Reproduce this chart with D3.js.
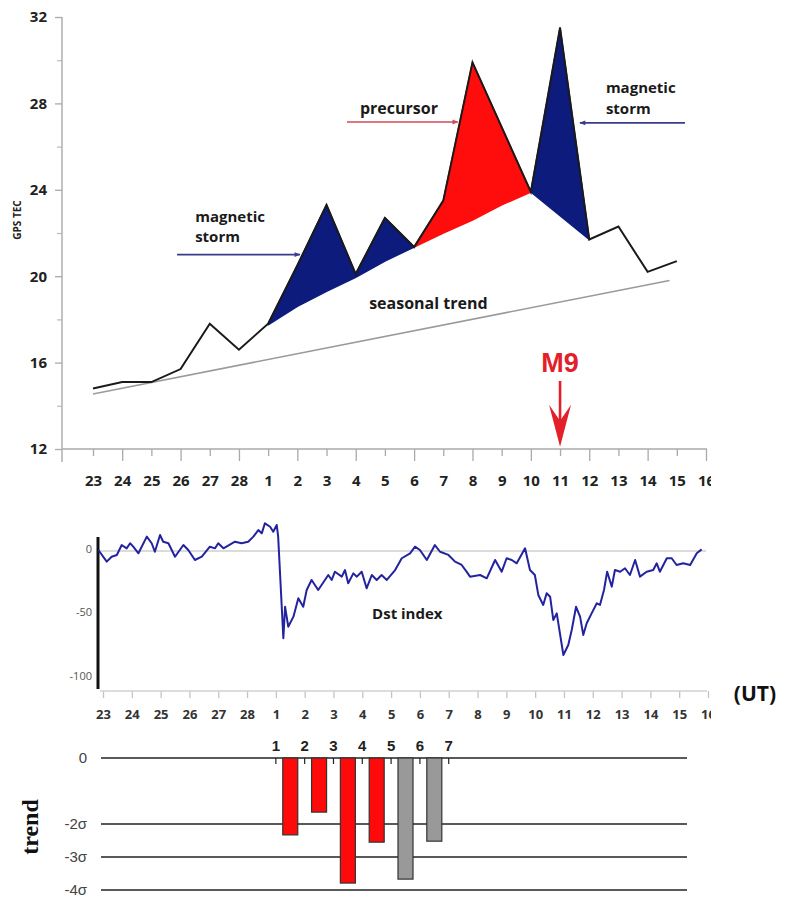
<!DOCTYPE html>
<html><head><meta charset="utf-8">
<script src="https://cdn.jsdelivr.net/npm/d3@7/dist/d3.min.js"></script>
<style>
html,body{margin:0;padding:0;background:#fff;}
svg{display:block;}
</style></head>
<body>
<script>
// ---------- DATA ----------
const dayLabels = ["23","24","25","26","27","28","1","2","3","4","5","6","7","8","9","10","11","12","13","14","15","16"];
const tecValues = [14.8,15.1,15.1,15.7,17.8,16.6,17.8,20.5,23.3,20.1,22.7,21.35,23.5,29.9,26.9,23.9,31.5,21.7,22.3,20.2,20.7];
const baseStart = 6;
const baseValues = [17.75,18.6,19.3,19.95,20.7,21.35,22.0,22.6,23.3,23.9,22.8,21.7];
const fillStart = [6,11,15];
const fillEnd   = [11,15,17];
const fillKind  = ["storm","precursor","storm"];
const trendIdx  = [0,19.75];
const trendVals = [14.55,19.8];
const tecTicks = [12,16,20,24,28,32];
const tecMinorTicks = [14,18,22,26,30];

// Dst index: time in days after the "23" tick, value in nT
const dstT = [-0.16,0.13,0.30,0.48,0.65,0.82,0.94,1.05,1.23,1.52,1.69,1.80,1.98,2.09,2.27,2.50,2.79,2.96,3.19,3.43,3.71,3.89,4.00,4.18,4.58,4.81,5.04,5.22,5.39,5.51,5.62,5.80,5.91,6.03,6.08,6.26,6.32,6.43,6.61,6.78,6.95,7.07,7.24,7.47,7.82,7.94,8.05,8.29,8.40,8.51,8.69,8.81,8.98,9.15,9.33,9.50,9.67,9.85,10.14,10.37,10.66,10.83,11.00,11.24,11.52,11.70,11.99,12.22,12.45,12.62,12.74,13.09,13.32,13.61,13.84,14.01,14.19,14.36,14.65,14.82,14.99,15.11,15.28,15.40,15.52,15.63,15.75,15.98,16.15,16.27,16.42,16.56,16.67,16.79,16.96,17.14,17.25,17.39,17.50,17.66,17.77,17.95,18.12,18.29,18.47,18.64,18.87,19.10,19.22,19.33,19.57,19.74,19.91,20.14,20.38,20.61,20.78];
const dstV = [0.8,-8.4,-4.5,-3.1,4.7,2.1,6.1,3.4,-1.8,11.3,6.1,-0.6,12.6,7.3,6.1,-4.5,4.7,0.8,-7.1,-4.5,3.4,2.1,6.1,2.1,7.3,6.1,7.3,11.3,16.5,13.9,21.8,19.1,15.2,20.5,11.3,-68.7,-43.9,-59.6,-51.7,-37.2,-43.9,-30.7,-22.8,-30.7,-18.9,-22.8,-16.3,-20.2,-15.0,-25.4,-17.6,-20.2,-16.3,-29.4,-18.9,-22.8,-18.9,-22.8,-15.0,-5.7,-1.8,3.4,0.8,-7.1,4.7,-0.6,-3.1,-8.4,-11.0,-16.3,-20.2,-18.9,-21.5,-7.1,-16.3,-5.7,-7.1,-9.7,2.1,-15.0,-18.9,-34.6,-42.5,-33.3,-36.0,-54.3,-49.1,-81.9,-74.0,-62.2,-43.9,-51.7,-66.1,-56.9,-49.1,-41.2,-42.5,-30.7,-16.3,-28.1,-15.0,-16.3,-13.6,-18.9,-7.1,-20.2,-16.3,-15.0,-9.7,-16.3,-5.7,-5.7,-11.0,-9.7,-11.0,-1.8,1.3];
const dstTicks = [0,-50,-100];
const dstTickLabels = ["0","-50","-100"];

const barNumbers = ["1","2","3","4","5","6","7"];
const barValues = [-2.33,-1.64,-3.79,-2.55,-3.67,-2.52];
const barKinds  = ["red","red","red","red","gray","gray"];
const sigmaTicks = [0,-2,-3,-4];
const sigmaLabels = ["0","-2σ","-3σ","-4σ"];

// ---------- SETUP ----------
const W = 789, H = 897;
const svg = d3.select("body").append("svg").attr("width",W).attr("height",H);
svg.append("rect").attr("width",W).attr("height",H).attr("fill","#fff");
const FONT = "'Open Sans', 'DejaVu Sans', sans-serif";
const NAVY = "#0d1b7d", RED = "#ff0d0d";

const defs = svg.append("defs");
defs.append("clipPath").attr("id","clipR").append("rect").attr("x",0).attr("y",0).attr("width",711).attr("height",H);
function marker(id, color){
  defs.append("marker").attr("id",id).attr("viewBox","0 0 10 10").attr("refX",9).attr("refY",5)
    .attr("markerWidth",8).attr("markerHeight",6).attr("markerUnits","userSpaceOnUse").attr("orient","auto")
    .append("path").attr("d","M0,1 L10,5 L0,9 Z").attr("fill",color);
}
marker("arrNavy","#3b3b8c");
marker("arrRed","#d24a5a");

// ---------- TOP PANEL ----------
const xTop = d3.scaleLinear().domain([0,21]).range([93,706]);
const yTop = d3.scaleLinear().domain([12,32]).range([449,17]);
const topG = svg.append("g");

const yAx = topG.append("g").attr("transform",`translate(62,0)`)
  .call(d3.axisLeft(yTop).tickValues(tecTicks).tickSize(7).tickSizeOuter(0).tickPadding(8).tickFormat(d3.format("d")));
yAx.select(".domain").remove();
yAx.selectAll("line").attr("stroke","#aaa").attr("stroke-width",1.3);
yAx.selectAll("text").attr("font-family",FONT).attr("font-weight","bold").attr("font-size",15).attr("fill","#222");
const yAxMin = topG.append("g").attr("transform",`translate(62,0)`)
  .call(d3.axisLeft(yTop).tickValues(tecMinorTicks).tickSize(5).tickSizeOuter(0).tickFormat(""));
yAxMin.select(".domain").remove();
yAxMin.selectAll("line").attr("stroke","#bbb").attr("stroke-width",1.2);
topG.append("line").attr("x1",62).attr("x2",62).attr("y1",yTop(32)).attr("y2",yTop(12)+13).attr("stroke","#aaa").attr("stroke-width",1.4);

const xAx = topG.append("g").attr("transform",`translate(0,${yTop(12)})`).attr("clip-path","url(#clipR)")
  .call(d3.axisBottom(xTop).tickValues(d3.range(dayLabels.length)).tickFormat(i=>dayLabels[i]).tickSize(8).tickSizeOuter(0).tickPadding(18));
xAx.select(".domain").remove();
xAx.selectAll("line").attr("stroke","#aaa").attr("stroke-width",1.3).attr("y2",(d,i)=> i%2 ? 12 : 7);
xAx.selectAll("text").attr("font-family",FONT).attr("font-weight","bold").attr("font-size",15).attr("fill","#222");
topG.append("line").attr("x1",62).attr("x2",707).attr("y1",yTop(12)).attr("y2",yTop(12)).attr("stroke","#aaa").attr("stroke-width",1.4);

topG.append("path").datum(trendIdx.map((d,i)=>[d,trendVals[i]]))
  .attr("d",d3.line().x(d=>xTop(d[0])).y(d=>yTop(d[1])))
  .attr("fill","none").attr("stroke","#9a9a9a").attr("stroke-width",1.6);

const area = d3.area().x(d=>xTop(d.i)).y0(d=>yTop(d.b)).y1(d=>yTop(d.v));
fillStart.forEach((s,k)=>{
  const pts = d3.range(s, fillEnd[k]+1).map(i=>({i, v:tecValues[i], b:baseValues[i-baseStart]}));
  const c = fillKind[k]==="storm" ? NAVY : RED;
  topG.append("path").datum(pts).attr("d",area).attr("fill",c).attr("stroke",c).attr("stroke-width",1.5).attr("stroke-linejoin","round");
});

topG.append("path").datum(tecValues.map((v,i)=>[i,v]))
  .attr("d",d3.line().x(d=>xTop(d[0])).y(d=>yTop(d[1])))
  .attr("fill","none").attr("stroke","#1a1a1a").attr("stroke-width",2).attr("stroke-linejoin","miter");

function txt(g,x,y,s,opt={}){
  return g.append("text").attr("x",x).attr("y",y).text(s)
    .attr("font-family",opt.font||FONT).attr("font-weight",opt.weight||"bold")
    .attr("font-size",opt.size||16).attr("fill",opt.fill||"#1a1a1a")
    .attr("text-anchor",opt.anchor||"start").attr("dominant-baseline","central");
}
txt(topG, xTop(3.5), yTop(22.8), "magnetic",{size:15});
txt(topG, xTop(3.5), yTop(21.85), "storm",{size:15});
topG.append("line").attr("x1",xTop(2.88)).attr("x2",xTop(7.09)).attr("y1",yTop(21)).attr("y2",yTop(21))
  .attr("stroke","#3b3b8c").attr("stroke-width",1.6).attr("marker-end","url(#arrNavy)");
txt(topG, xTop(10.48), yTop(27.8), "precursor",{anchor:"middle"});
topG.append("line").attr("x1",xTop(8.7)).attr("x2",xTop(12.5)).attr("y1",yTop(27.14)).attr("y2",yTop(27.14))
  .attr("stroke","#d24a5a").attr("stroke-width",1.6).attr("marker-end","url(#arrRed)");
txt(topG, xTop(17.57), yTop(28.75), "magnetic",{size:15});
txt(topG, xTop(17.57), yTop(27.8), "storm",{size:15});
topG.append("line").attr("x1",xTop(20.28)).attr("x2",xTop(16.68)).attr("y1",yTop(27.1)).attr("y2",yTop(27.1))
  .attr("stroke","#3b3b8c").attr("stroke-width",1.6).attr("marker-end","url(#arrNavy)");
txt(topG, xTop(9.46), yTop(18.76), "seasonal trend");

topG.append("text").attr("transform",`translate(17,${yTop(22.6)}) rotate(-90)`).text("GPS TEC")
  .attr("font-family",FONT).attr("font-weight","bold").attr("font-size",10).attr("fill","#222")
  .attr("text-anchor","middle").attr("dominant-baseline","central");

const mx = xTop(16);
txt(topG, mx, yTop(15.98), "M9",{anchor:"middle",size:27,fill:"#e3202a",font:"'Liberation Sans Narrow','Liberation Sans',Arial,sans-serif"});
const tipY = yTop(12.1), shaftTop = yTop(15.15);
topG.append("line").attr("x1",mx).attr("x2",mx).attr("y1",shaftTop).attr("y2",tipY-12).attr("stroke","#e3202a").attr("stroke-width",2.6);
topG.append("path").attr("d",`M${mx},${tipY} L${mx-11},${tipY-42} L${mx},${tipY-26} L${mx+11},${tipY-42} Z`).attr("fill","#e3202a");

// ---------- DST PANEL ----------
const xDst = d3.scaleLinear().domain([0,21]).range([103,708]);
const yDst = d3.scaleLinear().domain([0,-100]).range([551,678]);
const dst = svg.append("g");
dst.append("line").attr("x1",98).attr("x2",706).attr("y1",yDst(0)).attr("y2",yDst(0)).attr("stroke","#cfcfcf").attr("stroke-width",1.5);
const dyAx = dst.append("g").attr("transform","translate(92,-2.5)")
  .call(d3.axisLeft(yDst).tickValues(dstTicks).tickSize(0).tickPadding(0).tickFormat((d,i)=>dstTickLabels[i]));
dyAx.select(".domain").remove();
dyAx.selectAll("text").attr("font-family",FONT).attr("font-size",11).attr("fill","#555");
dst.append("line").attr("x1",98).attr("x2",98).attr("y1",537).attr("y2",689).attr("stroke","#111").attr("stroke-width",3);

const dxAx = dst.append("g").attr("transform","translate(0,691)").attr("clip-path","url(#clipR)")
  .call(d3.axisBottom(xDst).tickValues(d3.range(dayLabels.length)).tickFormat(i=>dayLabels[i]).tickSize(7).tickSizeOuter(0).tickPadding(12));
dxAx.select(".domain").remove();
dxAx.selectAll("line").attr("stroke","#c4c4c4").attr("stroke-width",1.3);
dxAx.selectAll("text").attr("font-family",FONT).attr("font-weight","bold").attr("font-size",13).attr("fill","#333");
dst.append("line").attr("x1",100).attr("x2",707).attr("y1",691).attr("y2",691).attr("stroke","#d0d0d0").attr("stroke-width",1.3);

dst.append("path").datum(dstT.map((t,i)=>[t,dstV[i]]))
  .attr("d",d3.line().x(d=>xDst(d[0])).y(d=>yDst(d[1])))
  .attr("fill","none").attr("stroke","#2323a0").attr("stroke-width",2).attr("stroke-linejoin","round");

txt(dst, xDst(9.34), yDst(-48.8), "Dst index",{size:15});
txt(svg, 755, 693, "(UT)",{anchor:"middle",size:21,fill:"#111"});

// ---------- BAR PANEL ----------
const ySig = d3.scaleLinear().domain([0,-4]).range([758,890]);
const bars = svg.append("g");
const gAx = bars.append("g").attr("transform","translate(87,0)")
  .call(d3.axisLeft(ySig).tickValues(sigmaTicks).tickSize(0).tickPadding(0).tickFormat((d,i)=>sigmaLabels[i]));
gAx.select(".domain").remove();
gAx.selectAll("text").attr("font-family","'Liberation Sans',Arial,sans-serif").attr("font-size",15).attr("fill","#444");
bars.selectAll("line.grid").data(sigmaTicks).join("line").attr("class","grid")
  .attr("x1",101).attr("x2",687).attr("y1",d=>ySig(d)).attr("y2",d=>ySig(d))
  .attr("stroke","#222").attr("stroke-width",1.6);
bars.selectAll("line.tk").data(barNumbers).join("line").attr("class","tk")
  .attr("x1",(d,i)=>xDst(6+i)).attr("x2",(d,i)=>xDst(6+i)).attr("y1",ySig(0)).attr("y2",ySig(0)+6)
  .attr("stroke","#222").attr("stroke-width",1.2);
bars.selectAll("text.num").data(barNumbers).join("text").attr("class","num")
  .attr("x",(d,i)=>xDst(6+i)).attr("y",745).text(d=>d)
  .attr("font-family","'Liberation Sans',Arial,sans-serif").attr("font-weight","bold").attr("font-size",15).attr("fill","#222")
  .attr("text-anchor","middle").attr("dominant-baseline","central");
bars.selectAll("rect.bar").data(barValues).join("rect").attr("class","bar")
  .attr("x",(d,i)=>xDst(6+i+0.5)-7.5).attr("width",15)
  .attr("y",ySig(0)).attr("height",d=>ySig(d)-ySig(0))
  .attr("fill",(d,i)=>barKinds[i]==="red" ? "#ff0a0a" : "#999999")
  .attr("stroke","#333").attr("stroke-width",1.2);

bars.append("text").attr("transform",`translate(30,827) rotate(-90)`).text("trend")
  .attr("font-family","'Liberation Serif','Times New Roman',serif").attr("font-weight","bold").attr("font-size",24).attr("fill","#111")
  .attr("text-anchor","middle").attr("dominant-baseline","central");
</script>
</body></html>
